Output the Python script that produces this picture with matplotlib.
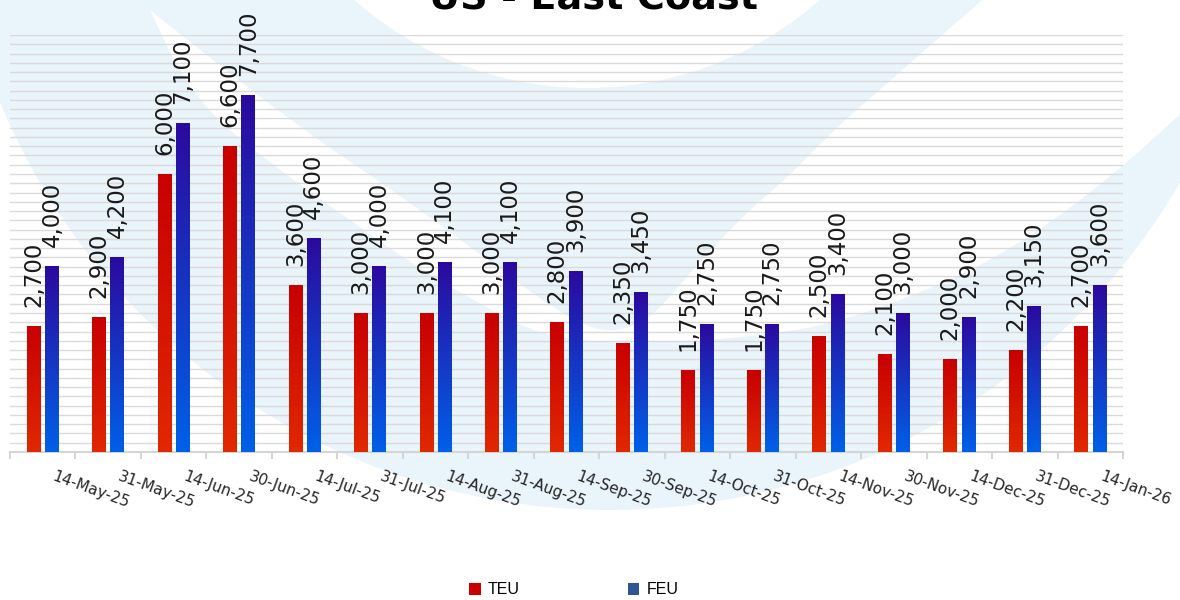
import numpy as np
import matplotlib
matplotlib.use('Agg')
import matplotlib.pyplot as plt
import matplotlib.colors as mcolors
from matplotlib.patches import Circle, Patch, Polygon
from matplotlib.transforms import ScaledTranslation

# ---- data ----
categories = ['14-May-25', '31-May-25', '14-Jun-25', '30-Jun-25', '14-Jul-25',
              '31-Jul-25', '14-Aug-25', '31-Aug-25', '14-Sep-25', '30-Sep-25',
              '14-Oct-25', '31-Oct-25', '14-Nov-25', '30-Nov-25', '14-Dec-25',
              '31-Dec-25', '14-Jan-26']
teu = [2700, 2900, 6000, 6600, 3600, 3000, 3000, 3000, 2800, 2350,
       1750, 1750, 2500, 2100, 2000, 2200, 2700]
feu = [4000, 4200, 7100, 7700, 4600, 4000, 4100, 4100, 3900, 3450,
       2750, 2750, 3400, 3000, 2900, 3150, 3600]
series_names = ['TEU', 'FEU']
title = 'US - East Coast'
y_max = 9000
y_step = 200

W, H, DPI = 1180, 600, 100
fig = plt.figure(figsize=(W / DPI, H / DPI), dpi=DPI, facecolor='white')

# ---- watermark background (decorative logo arcs, pixel coords) ----
bg = fig.add_axes([0, 0, 1, 1], zorder=0)
bg.set_xlim(0, W)
bg.set_ylim(H, 0)
bg.axis('off')
wm = '#E9F4FB'


def catmull(pts, n=12):
    pts = np.asarray(pts, float)
    P = np.vstack([pts[0], pts, pts[-1]])
    out = []
    for i in range(1, len(P) - 2):
        p0, p1, p2, p3 = P[i - 1], P[i], P[i + 1], P[i + 2]
        for t in np.linspace(0, 1, n, endpoint=False):
            t2, t3 = t * t, t * t * t
            out.append(0.5 * ((2 * p1) + (-p0 + p2) * t + (2 * p0 - 5 * p1 + 4 * p2 - p3) * t2
                              + (-p0 + 3 * p1 - 3 * p2 + p3) * t3))
    out.append(pts[-1])
    return np.array(out)


bg.add_patch(Circle((610, -150), 660, facecolor=wm, edgecolor='none'))
upper = [(150, 10), (217, 63), (275, 108), (333, 150), (383, 184), (450, 232),
         (520, 284), (572, 318), (610, 330), (650, 316), (700, 262), (745, 215),
         (787, 177), (840, 125), (900, 72), (950, 28), (982, 0), (990, -10)]
lower = [(1190, 105), (1120, 168), (1050, 222), (980, 265), (900, 300),
         (820, 325), (740, 337), (660, 342), (605, 342), (540, 332), (470, 298),
         (400, 255), (333, 208), (275, 166), (217, 118), (180, 70), (150, 10)]
gap = np.vstack([catmull(upper), [(1195, -10)], catmull(lower)])
bg.add_patch(Polygon(gap, closed=True, facecolor='white', edgecolor='none'))
bg.add_patch(Circle((587, -264), 352, facecolor='white', edgecolor='none'))

# ---- main axes ----
ax = fig.add_axes([10 / W, (H - 452) / H, (1123 - 10) / W, (452 - 35) / H], zorder=1)
ax.set_facecolor('none')

x = np.arange(len(categories))
bw = 0.21
off = 0.14
b1 = ax.bar(x - off, teu, bw, color='none', edgecolor='none', zorder=3)
b2 = ax.bar(x + off, feu, bw, color='none', edgecolor='none', zorder=3)


def gradient(bars, top, bottom):
    c_top = np.array(mcolors.to_rgb(top))
    c_bot = np.array(mcolors.to_rgb(bottom))
    t = np.linspace(0, 1, 256)[:, None]
    img = (c_bot * (1 - t) + c_top * t)[:, None, :]
    for r in bars:
        x0, y0 = r.get_x(), r.get_y()
        ax.imshow(img, extent=[x0, x0 + r.get_width(), y0, y0 + r.get_height()],
                  origin='lower', aspect='auto', zorder=3, interpolation='bilinear')


gradient(b1, '#C80000', '#E02800')
gradient(b2, '#2B0A9E', '#0060E8')

ax.set_xlim(-0.5, len(categories) - 0.5)
ax.set_ylim(0, y_max)

# grid
ax.set_yticks(np.arange(0, y_max + 1, y_step))
ax.yaxis.grid(True, color='#DADADA', lw=1.0, zorder=0)
ax.set_axisbelow(True)
ax.tick_params(axis='y', length=0, labelleft=False)
for s in ['top', 'left', 'right']:
    ax.spines[s].set_visible(False)
ax.spines['bottom'].set_color('#D5D5D5')
ax.spines['bottom'].set_linewidth(1.5)

# x ticks
ax.set_xticks(x)
ax.set_xticklabels(categories, rotation=-20, ha='left', va='top',
                   rotation_mode='anchor', fontsize=11, color='#262626',
                   family='DejaVu Sans')
ax.set_xticks(np.arange(-0.5, len(categories)), minor=True)
ax.tick_params(axis='x', which='major', length=0, pad=12)
ax.tick_params(axis='x', which='minor', length=5, color='#D5D5D5', width=1.5,
               direction='out')
for lab in ax.get_xticklabels():
    lab.set_transform(lab.get_transform() + ScaledTranslation(13 / DPI, 0, fig.dpi_scale_trans))

# data labels
for bars, vals in [(b1, teu), (b2, feu)]:
    for r, v in zip(bars, vals):
        ax.annotate(f'{v:,}', (r.get_x() + r.get_width() / 2, r.get_height()),
                    xytext=(0, 14), textcoords='offset points', rotation=90,
                    ha='center', va='bottom', fontsize=16.5, color='#1a1a1a',
                    family='DejaVu Sans', zorder=5, annotation_clip=False)

# title (partially cut at top, as in the reference)
fig.text(594 / W, 1 - 9 / H, title, ha='center', va='baseline', fontsize=27.5,
         fontweight='bold', family='DejaVu Sans', color='black')

# legend
handles = [Patch(facecolor='#CC0000', label=series_names[0]),
           Patch(facecolor='#2F5597', label=series_names[1])]
fig.legend(handles=handles, loc='center', bbox_to_anchor=(574 / W, 1 - 590 / H),
           ncol=2, frameon=False, prop={'family': 'Liberation Sans', 'size': 11.5},
           handlelength=0.7, handleheight=0.7, handletextpad=0.45, columnspacing=6.8)

fig.savefig('out.png', dpi=DPI, facecolor='white')
